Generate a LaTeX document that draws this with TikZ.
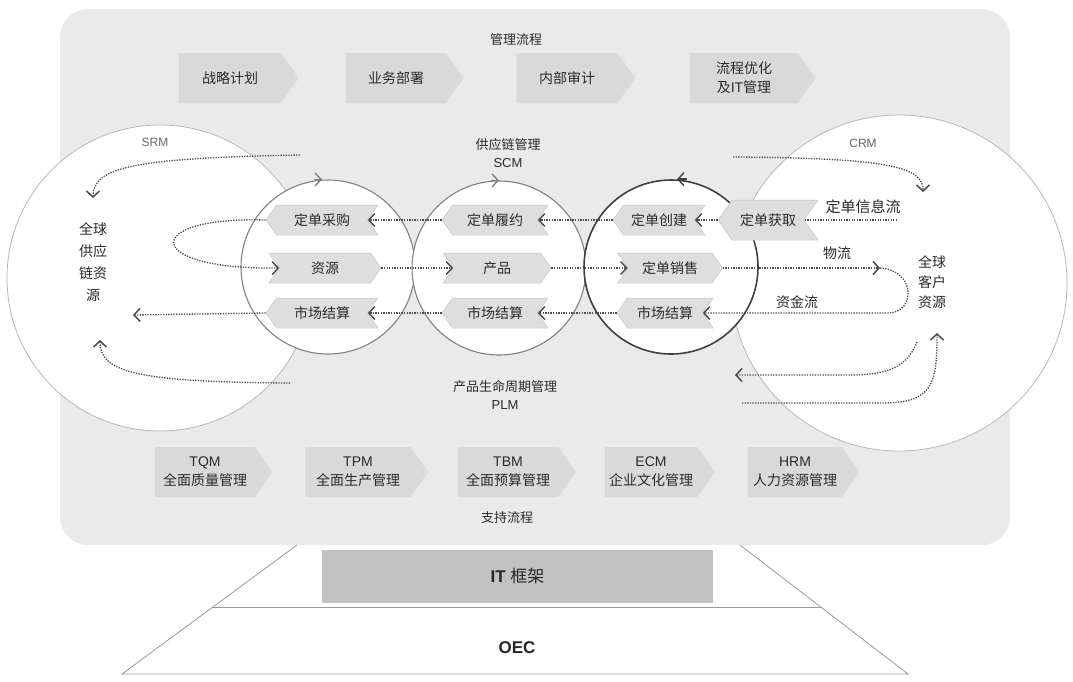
\documentclass[tikz,border=0pt]{standalone}
\usepackage{fontspec}
\setmainfont{Noto Sans CJK SC}
\newfontfamily\lat{Liberation Sans}
\usetikzlibrary{shapes.symbols,shapes.geometric,arrows.meta}
\definecolor{bg}{HTML}{EAEAEA}
\definecolor{txt}{HTML}{2A2A2A}
\tikzset{
  chev/.style={signal, signal pointer angle=110, fill=black!13, draw=black!22, line width=0.5pt,
    minimum height=30pt, inner sep=0pt, text=txt, font=\fontsize{14}{16}\selectfont},
  lchev/.style={chev, signal to=west, signal from=east},
  rchev/.style={chev, signal to=east, signal from=west},
  proc/.style={signal, signal to=east, signal pointer angle=110, fill=black!15, draw=black!10,
    minimum height=50pt, inner sep=0pt, align=center, text=txt, font=\fontsize{14}{19}\selectfont},
  ring/.style={circle, draw=black!50, line width=1.1pt, fill=white, minimum size=174pt, inner sep=0pt},
  darkring/.style={ring, draw=black!75, line width=1.6pt},
  bigring/.style={circle, draw=black!28, line width=0.8pt, fill=white, inner sep=0pt},
  dotl/.style={draw=black!70, line width=1.3pt, dash pattern=on 1.3pt off 1.3pt},
  flow/.style={dotl, -{Straight Barb[length=6pt,width=13pt,line width=1.5pt]}},
  cirarr/.style={draw=black!50, line width=1.1pt, -{Straight Barb[length=6pt,width=13pt,line width=1.4pt]}},
  lbl/.style={text=txt, align=center, inner sep=0pt, font=\fontsize{13}{18}\selectfont},
}
\begin{document}
\begin{tikzpicture}[x=1pt,y=-1pt]
\useasboundingbox (0,0) rectangle (1073,681);
% background
\fill[bg, rounded corners=28pt] (60,9) rectangle (1010,545);
% big circles
\node[bigring, minimum size=306pt] (srm) at (160,278) {};
\node[bigring, minimum size=336pt] (crm) at (899,283) {};
% three circles
\node[ring] (c1) at (328,267) {};
\node[ring] (c2) at (499,268) {};
\node[darkring] (c3) at (671,267) {};
\draw[cirarr] ([xshift=-14pt]c1.north) -- ([xshift=-6pt]c1.north);
\draw[cirarr] ([xshift=-8pt]c2.north) -- ([xshift=0pt]c2.north);
\draw[cirarr, draw=black!75, line width=1.6pt] ([xshift=16pt]c3.north) -- ([xshift=6pt]c3.north);

% titles
\node[lbl] (mgmt) at (516,40) {管理流程};
\node[lbl] (scm) at (508,153) {供应链管理\\{\lat SCM}};
\node[lbl] (plm) at (505,395) {产品生命周期管理\\{\lat PLM}};
\node[lbl] (supp) at (507,518) {支持流程};
\node[lbl, font=\lat\fontsize{12}{14}\selectfont, text=black!60] (srmt) at (155,142) {SRM};
\node[lbl, font=\lat\fontsize{12}{14}\selectfont, text=black!60] (crmt) at (863,143) {CRM};
\node[lbl, font=\fontsize{14}{22}\selectfont] (gsr) at (93,262) {全球\\供应\\链资\\源};
\node[lbl, font=\fontsize{14}{20}\selectfont] (gcr) at (932,282) {全球\\客户\\资源};
\node[lbl, font=\fontsize{15}{18}\selectfont] (xxl) at (863,207) {定单信息流};
\node[lbl, font=\fontsize{14}{18}\selectfont] (wl) at (837,253) {物流};
\node[lbl, font=\fontsize{14}{18}\selectfont] (zjl) at (797,302) {资金流};

% top process boxes
\node[proc, minimum width=120pt] (p1) at (230,78) {战略计划};
\node[proc, minimum width=118pt] (p2) at (396,78) {业务部署};
\node[proc, minimum width=119pt] (p3) at (567,78) {内部审计};
\node[proc, minimum width=126pt] (p4) at (744,78) {流程优化\\及{\lat IT}管理};

% bottom process boxes
\node[proc, minimum width=118pt] (b1) at (205,472) {{\lat TQM}\\全面质量管理};
\node[proc, minimum width=123pt] (b2) at (358,472) {{\lat TPM}\\全面生产管理};
\node[proc, minimum width=118pt] (b3) at (508,472) {{\lat TBM}\\全面预算管理};
\node[proc, minimum width=110pt] (b4) at (651,472) {{\lat ECM}\\企业文化管理};
\node[proc, minimum width=112pt] (b5) at (795,472) {{\lat HRM}\\人力资源管理};

% chevrons
\node[lchev, minimum width=112pt] (cg) at (322,220) {定单采购};
\node[rchev, minimum width=112pt] (zy) at (325,268) {资源};
\node[lchev, minimum width=112pt] (js1) at (322,313) {市场结算};
\node[lchev, minimum width=106pt] (ly) at (495,220) {定单履约};
\node[rchev, minimum width=108pt] (cp) at (497,268) {产品};
\node[lchev, minimum width=106pt] (js2) at (495,313) {市场结算};
\node[lchev, minimum width=92pt] (cj) at (659,220) {定单创建};
\node[rchev, minimum width=105pt] (xs) at (670,268) {定单销售};
\node[lchev, minimum width=96pt] (js3) at (665,313) {市场结算};
\node[lchev, minimum width=100pt, minimum height=40pt] (hq) at (768,220) {定单获取};

% free-end coordinates
\coordinate (hqr) at (897,220);
\coordinate (r1) at (880,268);
\coordinate (r2) at (888,313);
\coordinate (srmtip) at (133,315);
\coordinate (tl0) at (300,155);
\coordinate (tl1) at (93,198);
\coordinate (bl0) at (290,383);
\coordinate (bl1) at (100,340);
\coordinate (tr0) at (733,157);
\coordinate (tr1) at (923,192);
\coordinate (bra0) at (917,342);
\coordinate (bra1) at (735,375);
\coordinate (brb0) at (742,403);
\coordinate (brb1) at (937,333);

% row 1
\draw[dotl] (hqr) -- (hq.east);
\draw[flow] (hq.west) -- (cj.east);
\draw[flow] (cj.west) -- (ly.east);
\draw[flow] (ly.west) -- (cg.east);
\draw[flow] (cg.west) .. controls (141,216) and (141,270) .. (zy.west);
% row 2
\draw[flow] (zy.east) -- (cp.west);
\draw[flow] (cp.east) -- (xs.west);
\draw[flow] (xs.east) -- (r1);
\draw[flow] (r1) .. controls (916,270) and (916,313) .. (r2) -- (js3.east);
% row 3
\draw[flow] (js3.west) -- (js2.east);
\draw[flow] (js2.west) -- (js1.east);
\draw[flow] (js1.west) -- (srmtip);
% outer arcs
\draw[flow] (tl0) .. controls (130,158) and (93,168) .. (tl1);
\draw[flow] (bl0) .. controls (135,382) and (100,372) .. (bl1);
\draw[flow] (tr0) .. controls (895,158) and (923,168) .. (tr1);
\draw[flow] (bra0) .. controls (905,372) and (880,375) .. (845,375) -- (bra1);
\draw[flow] (brb0) -- (885,403) .. controls (932,402) and (937,385) .. (brb1);

% base trapezoid
\coordinate (ta) at (297,545);
\coordinate (tb) at (740,545);
\coordinate (tc) at (908,674);
\coordinate (td) at (122,674);
\fill[white] (ta) -- (tb) -- (tc) -- (td) -- cycle;
\draw[black!40, line width=0.8pt] (ta) -- (td) -- (tc) -- (tb);
\draw[black!40, line width=0.8pt] (212,607) -- (821,607);
\node[fill=black!24, minimum width=391pt, minimum height=53pt, inner sep=0pt,
  font=\lat\bfseries\fontsize{17}{20}\selectfont, text=black!85] (it) at (517.5,576.5) {IT \normalfont\fontsize{17}{20}\selectfont 框架};
\node[font=\lat\bfseries\fontsize{17}{20}\selectfont, text=black!85] (oec) at (517,648) {OEC};
\end{tikzpicture}
\end{document}
